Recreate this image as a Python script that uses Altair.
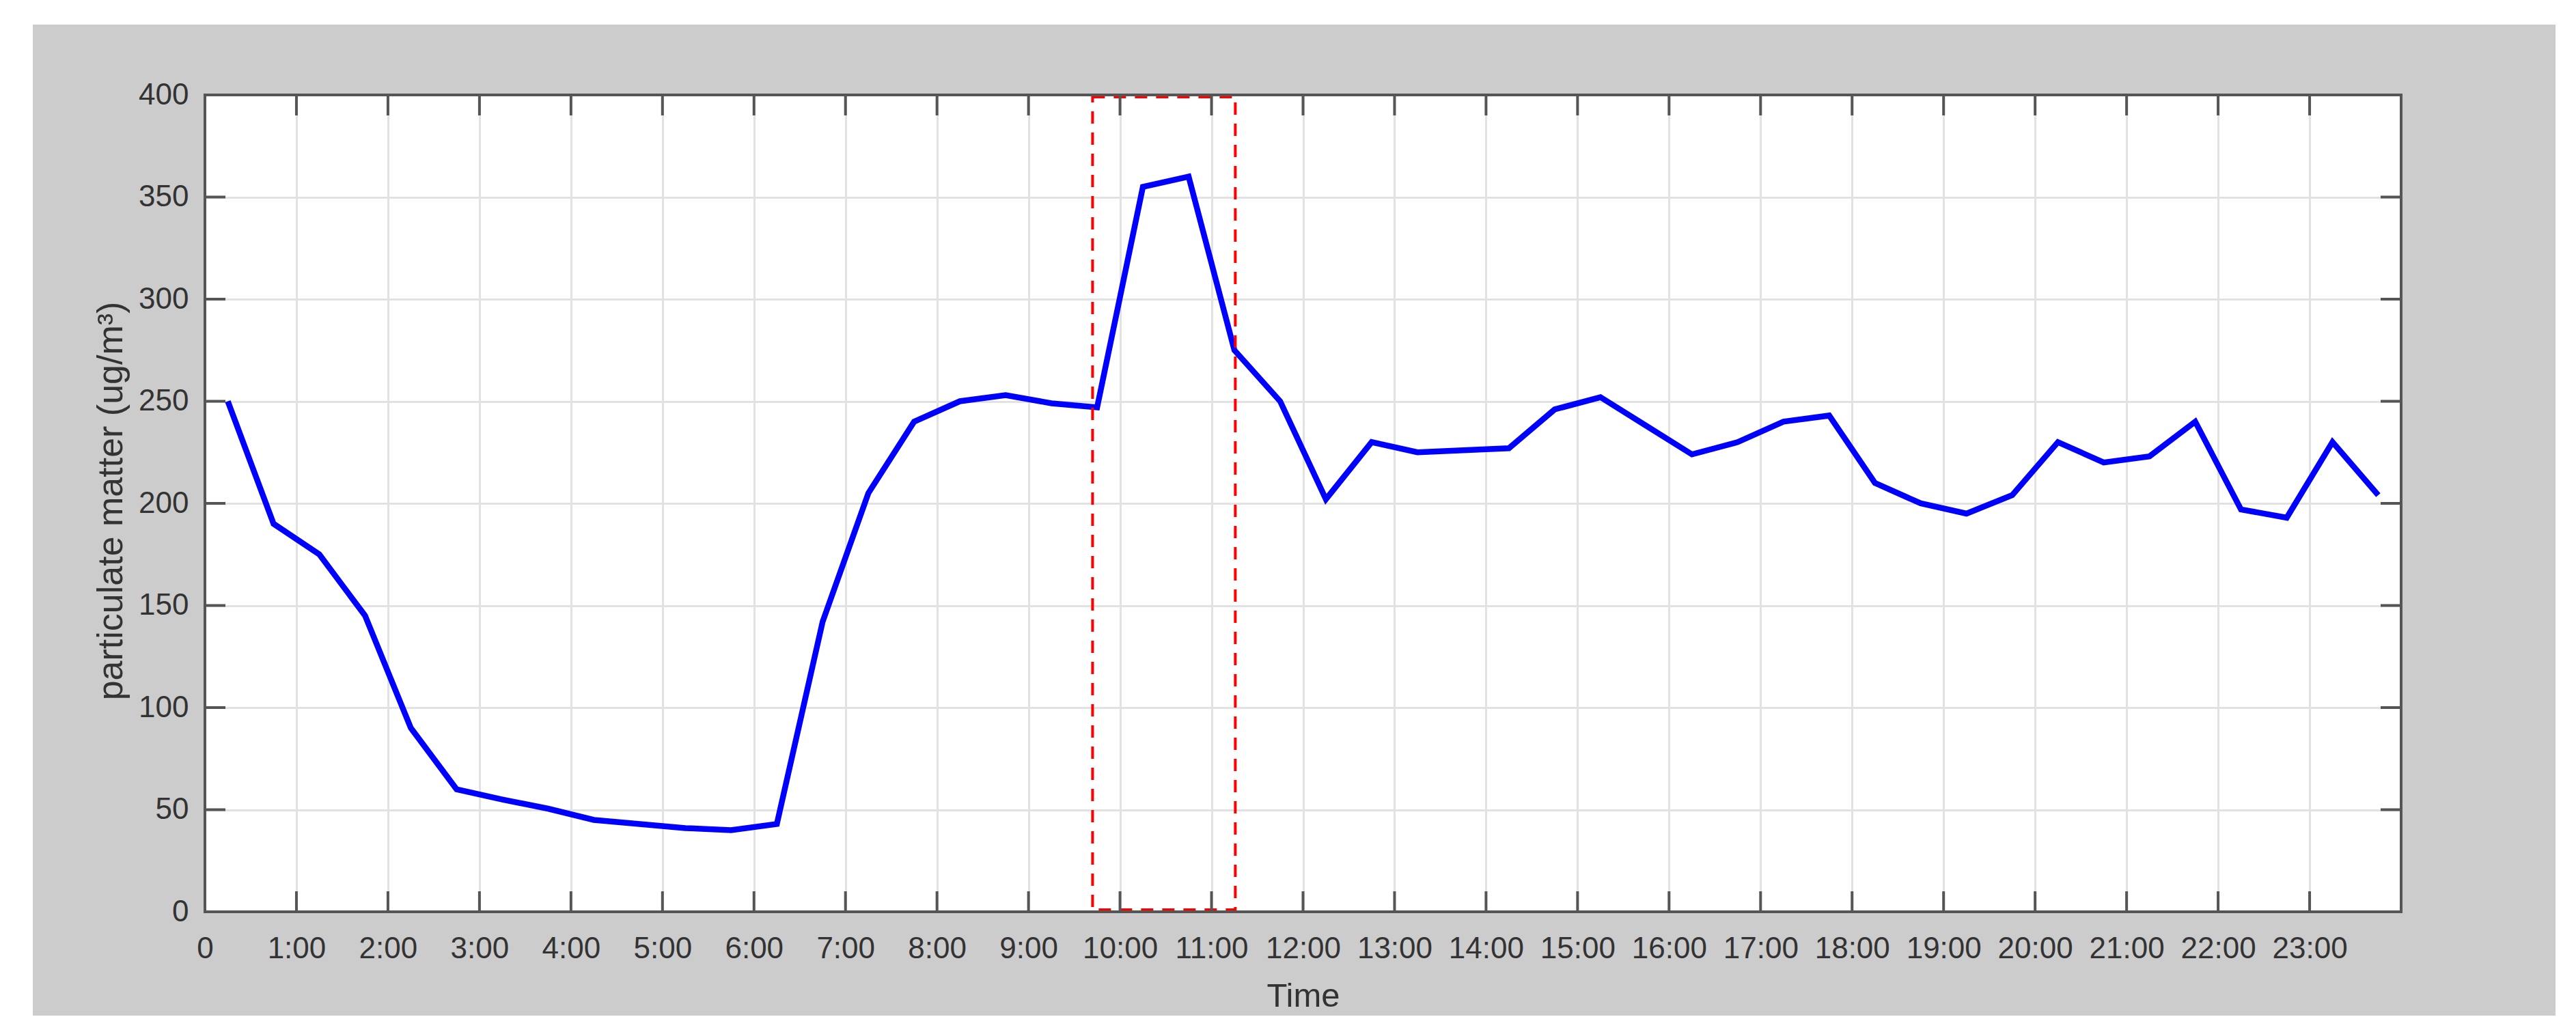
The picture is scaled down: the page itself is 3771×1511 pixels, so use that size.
import altair as alt
import pandas as pd

# ---- data ----
hours = [0.25, 0.75, 1.25, 1.75, 2.25, 2.75, 3.25, 3.75, 4.25, 4.75, 5.25, 5.75,
         6.25, 6.75, 7.25, 7.75, 8.25, 8.75, 9.25, 9.75, 10.25, 10.75, 11.25, 11.75,
         12.25, 12.75, 13.25, 13.75, 14.25, 14.75, 15.25, 15.75, 16.25, 16.75, 17.25, 17.75,
         18.25, 18.75, 19.25, 19.75, 20.25, 20.75, 21.25, 21.75, 22.25, 22.75, 23.25, 23.75]
pm = [250, 190, 175, 145, 90, 60, 55, 50.5, 45, 43, 41, 40,
      43, 142, 205, 240, 250, 253, 249, 247, 355, 360, 275, 250,
      202, 230, 225, 226, 227, 246, 252, 238, 224, 230, 240, 243,
      210, 200, 195, 204, 230, 220, 223, 240, 197, 193, 230, 204]

x_tick_values = [0, 1, 2, 3, 4, 5, 6, 7, 8, 9, 10, 11, 12, 13, 14, 15, 16, 17, 18, 19, 20, 21, 22, 23]
x_tick_labels = ["0", "1:00", "2:00", "3:00", "4:00", "5:00", "6:00", "7:00", "8:00", "9:00",
                 "10:00", "11:00", "12:00", "13:00", "14:00", "15:00", "16:00", "17:00",
                 "18:00", "19:00", "20:00", "21:00", "22:00", "23:00"]
y_tick_values = [0, 50, 100, 150, 200, 250, 300, 350, 400]
x_domain = [0, 24]
y_domain = [0, 400]
box_x = [9.7, 11.26]
box_y = [1, 399]

# ---- layout ----
W, H = 3215, 1196
PAD = {"left": 292, "top": 131, "right": 226, "bottom": 152}
FONT = "Liberation Sans"
TXT = "#333333"
AXC = "#555555"
TICK = 30

df = pd.DataFrame({"hour": hours, "pm": pm})
x_scale = alt.Scale(domain=x_domain, nice=False, zero=False)
y_scale = alt.Scale(domain=y_domain, nice=False)

label_expr = "[" + ",".join(f"'{s}'" for s in x_tick_labels) + "][datum.value]"

x_axis = alt.Axis(values=x_tick_values, labelExpr=label_expr, title="Time",
                  grid=True, gridColor="#e2e2e2", gridWidth=3,
                  ticks=False, tickSize=0, domain=False, labelPadding=32,
                  labelFont=FONT, labelFontSize=44, labelColor=TXT,
                  labelFlush=False, labelOverlap=False,
                  titleFont=FONT, titleFontSize=49, titleFontWeight="normal",
                  titleColor=TXT, titleX=W / 2, titleY=138,
                  titleBaseline="alphabetic", titleAlign="center")
y_axis = alt.Axis(values=y_tick_values, title="particulate matter (ug/m³)",
                  grid=True, gridColor="#e2e2e2", gridWidth=3,
                  ticks=False, tickSize=0, domain=False, labelPadding=24,
                  labelFont=FONT, labelFontSize=44, labelColor=TXT,
                  labelFlush=False, labelOverlap=False,
                  titleFont=FONT, titleFontSize=52, titleFontWeight="normal",
                  titleColor=TXT, titleX=-122, titleY=H / 2 - 4, titleAngle=270,
                  titleBaseline="alphabetic", titleAlign="center")

one = alt.Data(values=[{"k": 0}])

line = alt.Chart(df).mark_line(color="#0000ff", strokeWidth=8.5).encode(
    x=alt.X("hour:Q", scale=x_scale, axis=x_axis),
    y=alt.Y("pm:Q", scale=y_scale, axis=y_axis),
)

box_df = pd.DataFrame({"x1": [box_x[0]], "x2": [box_x[1]], "y1": [box_y[0]], "y2": [box_y[1]]})
box = alt.Chart(box_df).mark_rect(filled=False, stroke="#ff0000", strokeWidth=4,
                                  strokeDash=[18, 13]).encode(
    x=alt.X("x1:Q", scale=x_scale, axis=x_axis), x2="x2:Q",
    y=alt.Y("y1:Q", scale=y_scale, axis=y_axis), y2="y2:Q")

xt = pd.DataFrame({"t": x_tick_values[1:]})
yt = pd.DataFrame({"t": y_tick_values[1:-1]})
tick_style = dict(color=AXC, strokeWidth=4)
xt_bottom = alt.Chart(xt).mark_rule(**tick_style).encode(
    x=alt.X("t:Q", scale=x_scale, axis=x_axis), y=alt.value(H), y2=alt.value(H - TICK))
xt_top = alt.Chart(xt).mark_rule(**tick_style).encode(
    x=alt.X("t:Q", scale=x_scale, axis=x_axis), y=alt.value(0), y2=alt.value(TICK))
yt_left = alt.Chart(yt).mark_rule(**tick_style).encode(
    y=alt.Y("t:Q", scale=y_scale, axis=y_axis), x=alt.value(0), x2=alt.value(TICK))
yt_right = alt.Chart(yt).mark_rule(**tick_style).encode(
    y=alt.Y("t:Q", scale=y_scale, axis=y_axis), x=alt.value(W), x2=alt.value(W - TICK))

border = alt.Chart(one).mark_rect(filled=False, stroke=AXC, strokeWidth=4).encode(
    x=alt.value(0), x2=alt.value(W), y=alt.value(0), y2=alt.value(H))

# white page margins (outside the grey figure)
band_left = alt.Chart(one).mark_rect(color="white").encode(
    x=alt.value(-PAD["left"]), x2=alt.value(-PAD["left"] + 40),
    y=alt.value(-PAD["top"]), y2=alt.value(H + PAD["bottom"]))
band_top = alt.Chart(one).mark_rect(color="white").encode(
    x=alt.value(-PAD["left"]), x2=alt.value(W + PAD["right"]),
    y=alt.value(-PAD["top"]), y2=alt.value(-PAD["top"] + 28))

chart = alt.layer(
    line, box, xt_bottom, xt_top, yt_left, yt_right, border, band_left, band_top
).properties(
    width=W, height=H,
    autosize=alt.AutoSizeParams(type="none"),
    padding=PAD,
    background="#cccccc",
).configure(
    font=FONT,
    view=alt.ViewConfig(fill="white", stroke="transparent"),
)

chart.save("out.html", embed_options={"renderer": "svg", "actions": False})
